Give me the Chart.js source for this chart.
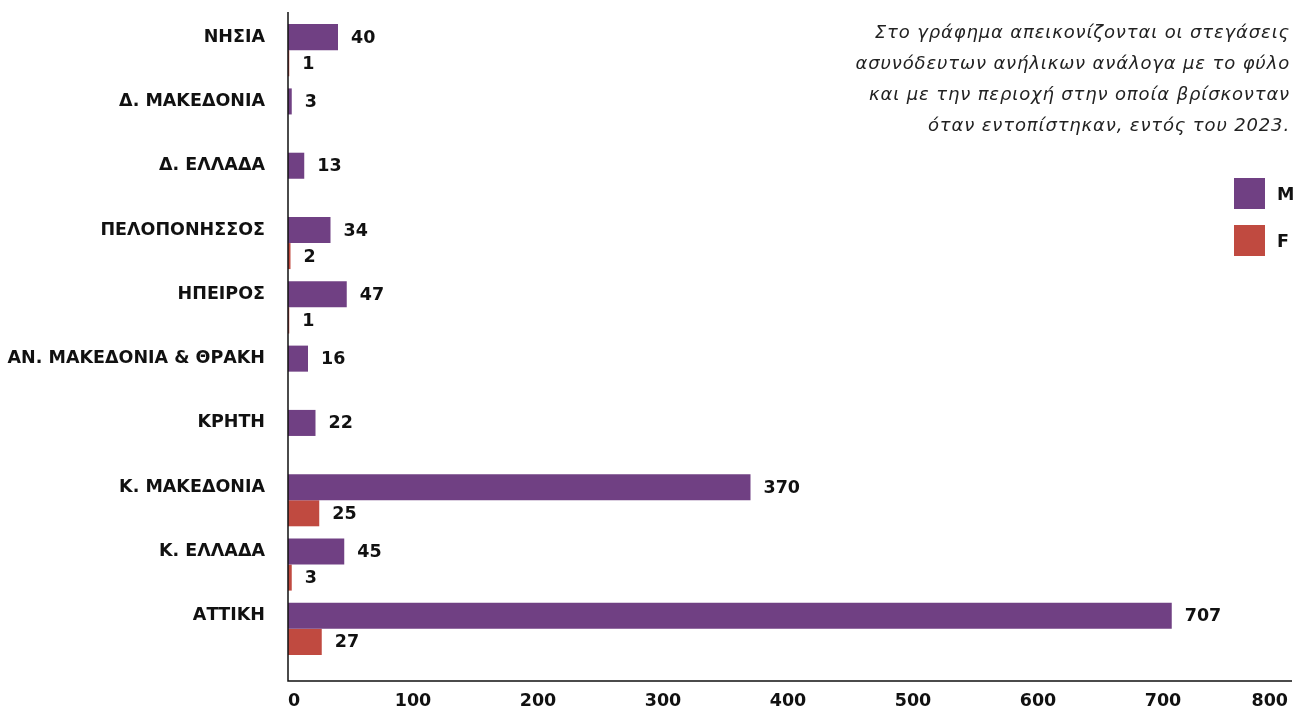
<!DOCTYPE html>
<html><head><meta charset="utf-8">
<script src="https://cdn.jsdelivr.net/npm/chart.js@4.4.1/dist/chart.umd.min.js"></script>
<style>
html,body{margin:0;padding:0;background:#fff;}
#wrap{position:relative;width:1307px;height:711px;}
#note{position:absolute;right:17px;top:16px;width:760px;text-align:right;font:italic 18px "DejaVu Sans";letter-spacing:0.85px;line-height:31px;color:#222;}
#legend{position:absolute;left:1234px;top:178px;}
.li{display:flex;align-items:center;height:31px;margin-bottom:16px;font:bold 17.5px "DejaVu Sans";color:#111;}
.sw{width:31px;height:31px;margin-right:12px;}
</style></head><body>
<div id="wrap"><canvas id="c"></canvas>
<div id="note">Στο γράφημα απεικονίζονται οι στεγάσεις<br>ασυνόδευτων ανήλικων ανάλογα με το φύλο<br>και με την περιοχή στην οποία βρίσκονταν<br>όταν εντοπίστηκαν, εντός του 2023.</div>
<div id="legend"></div></div>
<script>
const categories = ["ΝΗΣΙΑ","Δ. ΜΑΚΕΔΟΝΙΑ","Δ. ΕΛΛΑΔΑ","ΠΕΛΟΠΟΝΗΣΣΟΣ","ΗΠΕΙΡΟΣ","ΑΝ. ΜΑΚΕΔΟΝΙΑ & ΘΡΑΚΗ","ΚΡΗΤΗ","Κ. ΜΑΚΕΔΟΝΙΑ","Κ. ΕΛΛΑΔΑ","ΑΤΤΙΚΗ"];
const seriesNames = ["M","F"];
const maleValues = [40,3,13,34,47,16,22,370,45,707];
const femaleValues = [1,null,null,2,1,null,null,25,3,27];
const xMin = 0, xMax = 800, xStep = 100;
const colors = ["#704083","#c04a40"];

const FONT = '"DejaVu Sans"';

const valueLabels = {
  id:'valueLabels',
  afterDatasetsDraw(chart){
    const ctx = chart.ctx; ctx.save();
    ctx.font = 'bold 17.5px ' + FONT; ctx.fillStyle = '#111';
    ctx.textBaseline = 'middle'; ctx.textAlign = 'left';
    chart.data.datasets.forEach((ds,i)=>{
      chart.getDatasetMeta(i).data.forEach((bar,j)=>{
        const v = ds.data[j]; if (v == null) return;
        ctx.fillText(String(v), bar.x + 13, bar.y + 1);
      });
    });
    ctx.restore();
  }
};
const axisLines = {
  id:'axisLines',
  afterDatasetsDraw(chart){
    const {ctx, chartArea:a, scales:{x}} = chart;
    ctx.save(); ctx.strokeStyle = '#111'; ctx.lineWidth = 1.5;
    const x0 = x.getPixelForValue(xMin);
    ctx.beginPath();
    ctx.moveTo(x0, a.top - 6); ctx.lineTo(x0, a.bottom + 20);
    ctx.lineTo(x.getPixelForValue(xMax) + 4, a.bottom + 20);
    ctx.stroke(); ctx.restore();
  }
};

new Chart(document.getElementById('c'), {
  type:'bar',
  data:{
    labels: categories,
    datasets:[
      {label:seriesNames[0], data:maleValues, backgroundColor:colors[0]},
      {label:seriesNames[1], data:femaleValues, backgroundColor:colors[1]}
    ]
  },
  options:{
    indexAxis:'y', responsive:true, maintainAspectRatio:false, animation:false,
    categoryPercentage:0.81, barPercentage:1.0,
    layout:{padding:{top:18,right:19,bottom:0,left:0}},
    plugins:{legend:{display:false}, tooltip:{enabled:false}},
    scales:{
      x:{min:xMin,max:xMax,
        grid:{display:false, drawTicks:false}, border:{display:false},
        ticks:{stepSize:xStep, align:'inner', padding:30, color:'#111', font:{family:FONT,size:17.5,weight:'bold'}},
        afterFit(s){ s.height = 50; s.paddingLeft = 0; s.paddingRight = 0; }
      },
      y:{grid:{display:false, drawTicks:false}, border:{display:false},
        ticks:{padding:23, labelOffset:-13, color:'#111', font:{family:FONT,size:17.5,weight:'bold'}},
        afterFit(s){ s.width = 288; s.paddingTop = 0; s.paddingBottom = 0; }
      }
    }
  },
  plugins:[valueLabels, axisLines]
});

const lg = document.getElementById('legend');
seriesNames.forEach((n,i)=>{
  const d = document.createElement('div'); d.className='li';
  d.innerHTML = '<span class="sw" style="background:'+colors[i]+'"></span><span>'+n+'</span>';
  lg.appendChild(d);
});
</script>
</body></html>
